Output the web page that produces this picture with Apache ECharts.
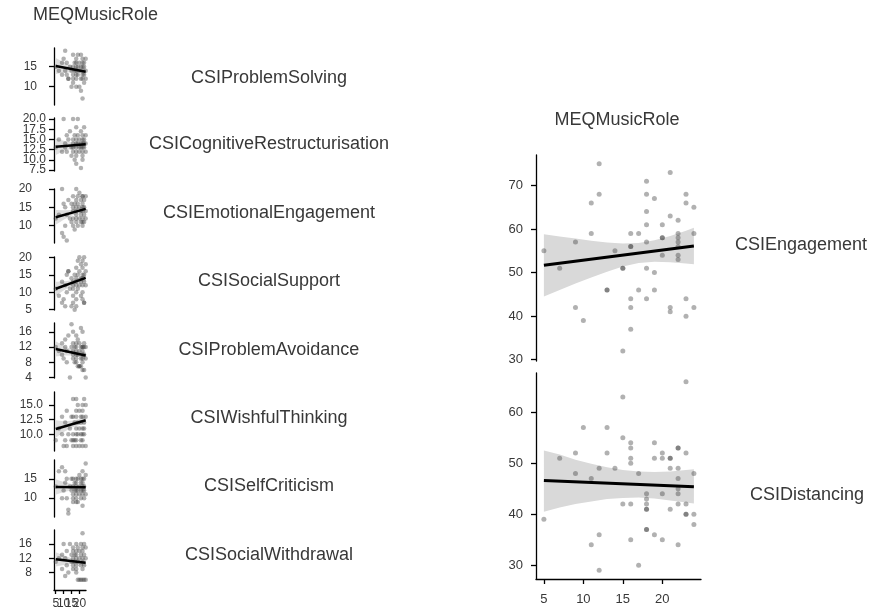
<!DOCTYPE html>
<html><head><meta charset="utf-8">
<script src="https://cdn.jsdelivr.net/npm/echarts@6/dist/echarts.min.js"></script>
<style>html,body{margin:0;padding:0;background:#fff}#c{width:875px;height:610px}</style>
</head><body><div id="c"></div>
<script>
// ---------- DATA ----------
const xLabel = 'MEQMusicRole';
const leftNames = ['CSIProblemSolving','CSICognitiveRestructurisation','CSIEmotionalEngagement','CSISocialSupport','CSIProblemAvoidance','CSIWishfulThinking','CSISelfCriticism','CSISocialWithdrawal'];
const rightNames = ['CSIEngagement','CSIDistancing'];

const xTicks = [5,10,15,20];
const leftYTicks = [[10,15],[7.5,10,12.5,15,17.5,20],[10,15,20],[5,10,15,20],[4,8,12,16],[10,12.5,15],[10,15],[8,12,16]];
const rightYTicks = [[30,40,50,60,70],[30,40,50,60]];

const ptsProblemSolving = [[5,15],[7,14],[9,16],[9,13],[10,17],[11,19],[11,14],[12,13],[12,16],[13,12],[13,12],[14,15],[15,14],[15,10],[16,18],[16,13],[16,15],[16,12],[16,11],[17,16],[17,14],[18,17],[18,15],[18,13],[18,12],[18,16],[18,10],[18,14],[19,18],[19,13],[19,15],[20,14],[20,16],[20,10],[21,18],[21,12],[21,15],[21,9],[22,17],[22,13],[22,16],[22,14],[22,15],[22,12],[22,7],[23,16],[23,11],[23,15],[23,13],[24,14],[24,17],[24,12]];
const ptsCognitive = [[5,13],[7,15],[9,12],[10,20],[11,14],[11,13],[12,16],[12,12],[13,15],[14,17],[15,13],[15,11],[16,20],[16,15],[16,14],[16,12],[16,13],[17,16],[17,10],[18,18],[18,15],[18,14],[18,13],[18,12],[18,11],[18,9],[19,16],[19,14],[19,20],[20,15],[20,13],[20,12],[21,17],[21,14],[21,13],[21,8],[22,16],[22,15],[22,14],[22,13],[22,12],[22,11],[22,10],[23,15],[23,14],[23,13],[23,18],[24,14],[24,12],[24,16]];
const ptsEmotional = [[5,12],[7,13],[9,20],[9,8],[10,16],[10,7],[11,15],[11,10],[12,13],[12,6],[13,17],[14,12],[15,16],[15,11],[16,18],[16,14],[16,12],[16,10],[16,15],[17,16],[17,9],[18,20],[18,17],[18,15],[18,13],[18,11],[18,14],[18,12],[19,18],[19,10],[19,16],[20,15],[20,12],[20,19],[21,17],[21,14],[21,11],[21,13],[22,18],[22,18],[22,16],[22,15],[22,14],[22,12],[22,11],[22,10],[23,17],[23,13],[23,15],[23,11],[24,18],[24,14],[24,12]];
const ptsSocialSupport = [[5,11],[7,9],[9,13],[9,7],[10,8],[11,12],[11,6],[12,15],[12,10],[13,16],[13,16],[14,11],[15,14],[15,6],[16,13],[16,9],[16,11],[16,7],[16,12],[17,15],[17,5],[18,17],[18,13],[18,10],[18,8],[18,14],[18,12],[18,6],[19,19],[19,11],[19,15],[20,20],[20,16],[20,12],[21,18],[21,14],[21,9],[21,13],[22,19],[22,17],[22,15],[22,14],[22,12],[22,10],[22,8],[23,20],[23,15],[23,13],[23,7],[23,7],[24,18],[24,16],[24,12]];
const ptsProblemAvoid = [[5,12],[7,11],[9,13],[9,10],[10,9],[11,14],[11,12],[12,11],[12,8],[13,15],[14,4],[15,18],[15,12],[16,16],[16,13],[16,11],[16,10],[16,9],[17,12],[17,8],[18,15],[18,13],[18,11],[18,10],[18,9],[18,8],[18,12],[19,14],[19,10],[19,7],[20,13],[20,11],[20,7],[20,7],[21,17],[21,12],[21,9],[21,7],[22,16],[22,12],[22,12],[22,11],[22,10],[22,9],[22,8],[22,6],[23,13],[23,10],[23,12],[23,6],[24,12],[24,9],[24,4]];
const ptsWishful = [[5,9],[7,11],[9,10],[9,13],[10,8],[11,12],[11,9],[12,14],[12,8],[13,10],[14,11],[15,13],[15,9],[16,16],[16,13],[16,10],[16,9],[16,8],[17,12],[17,9],[18,16],[18,14],[18,13],[18,11],[18,10],[18,9],[18,8],[19,15],[19,12],[19,10],[20,14],[20,11],[20,8],[21,13],[21,12],[21,10],[21,9],[22,15],[22,14],[22,13],[22,11],[22,10],[22,9],[22,8],[23,16],[23,12],[23,11],[23,10],[24,15],[24,13],[24,8]];
const ptsSelfCrit = [[5,13],[7,17],[9,18],[9,10],[10,12],[11,17],[11,14],[12,15],[12,10],[13,7],[13,6],[14,13],[15,15],[15,12],[16,15],[16,13],[16,11],[16,10],[16,9],[17,14],[17,12],[18,15],[18,14],[18,13],[18,12],[18,11],[18,10],[18,9],[19,15],[19,12],[19,9],[20,16],[20,13],[20,11],[21,15],[21,14],[21,12],[21,10],[22,17],[22,15],[22,14],[22,13],[22,12],[22,11],[22,8],[23,15],[23,13],[23,10],[23,12],[24,19],[24,16],[24,11]];
const ptsWithdrawal = [[5,11],[7,12],[9,13],[9,9],[10,16],[11,12],[11,7],[12,14],[12,10],[13,8],[14,16],[15,13],[15,11],[16,15],[16,14],[16,12],[16,9],[16,10],[17,13],[17,11],[18,16],[18,14],[18,12],[18,10],[18,9],[18,8],[18,13],[19,15],[19,11],[19,6],[20,14],[20,12],[20,6],[21,16],[21,13],[21,10],[21,6],[22,19],[22,15],[22,14],[22,12],[22,11],[22,9],[22,6],[23,16],[23,13],[23,10],[23,6],[24,15],[24,12],[24,6]];
const ptsEngagement = [[5,55],[7,51],[9,57],[9,42],[10,39],[11,66],[11,59],[12,75],[12,68],[13,46],[13,46],[14,55],[15,51],[15,51],[15,32],[16,59],[16,56],[16,56],[16,44],[16,42],[16,37],[17,59],[17,46],[18,71],[18,68],[18,64],[18,61],[18,57],[18,51],[18,44],[19,67],[19,50],[19,46],[20,61],[20,58],[20,58],[20,54],[21,73],[21,63],[21,42],[21,41],[22,62],[22,59],[22,58],[22,57],[22,56],[22,54],[22,53],[23,68],[23,66],[23,44],[23,40],[24,65],[24,59],[24,42]];
const ptsDistancing = [[5,39],[7,51],[9,52],[9,48],[10,57],[11,47],[11,34],[12,49],[12,36],[12,29],[13,57],[13,52],[14,49],[15,63],[15,55],[15,42],[16,54],[16,53],[16,51],[16,50],[16,42],[16,35],[17,48],[17,30],[18,44],[18,43],[18,42],[18,41],[18,41],[18,37],[18,37],[19,54],[19,51],[19,36],[20,52],[20,51],[20,44],[20,35],[21,51],[21,51],[21,49],[21,41],[22,53],[22,53],[22,49],[22,47],[22,45],[22,44],[22,42],[22,34],[23,66],[23,52],[23,42],[23,40],[23,40],[24,48],[24,40],[24,38]];

// regression line end values [at x=5, at x=24]
const fitLeft = [[15.2,13.75],[13.2,13.8],[12.3,14.6],[11.0,14.1],[11.5,9.8],[10.9,12.4],[12.9,12.8],[11.7,10.7]];
const fitRight = [[51.7,56.1],[46.6,45.4]];

// confidence bands
const bandXLeft = [5,10,15,20,24];
const bandLoLeft = [[13.2,13.5,13.6,13.4,12.8],[11.2,12.1,12.7,13.0,12.8],[10.3,11.6,12.7,13.4,13.6],[9.0,10.5,11.8,12.7,13.1],[9.5,9.8,9.8,9.5,8.8],[9.4,10.4,11.1,11.6,11.7],[10.9,11.6,12.0,12.1,11.8],[9.7,10.1,10.4,10.2,9.7]];
const bandHiLeft = [[17.2,16.1,15.2,14.8,14.8],[15.2,14.7,14.3,14.4,14.8],[14.3,14.2,14.3,14.8,15.6],[13.0,13.1,13.4,14.2,15.1],[13.5,12.3,11.4,10.9,10.8],[12.4,12.2,12.3,12.6,13.1],[14.9,14.2,13.7,13.5,13.8],[13.7,12.8,12.0,11.6,11.7]];
const bandXRight = [5,7,9,11,13,15,17,19,21,23,24];
const bandLoRight = [[44.5,46.0,47.5,48.9,50.2,51.4,52.2,52.5,52.4,52.1,51.9],[40.5,41.3,42.0,42.5,43.0,43.2,43.3,43.1,42.7,42.3,42.1]];
const bandHiRight = [[58.8,58.3,57.8,57.3,56.9,56.7,56.8,57.4,58.4,59.6,60.3],[52.5,51.7,50.7,49.9,49.2,48.7,48.4,48.3,48.4,48.7,48.8]];

const leftPoints = [ptsProblemSolving,ptsCognitive,ptsEmotional,ptsSocialSupport,ptsProblemAvoid,ptsWishful,ptsSelfCrit,ptsWithdrawal];
const rightPoints = [ptsEngagement,ptsDistancing];

// ---------- LAYOUT ----------
const leftLayout = [
  {top:48,h:57,min:5.4,max:19.7,m:17,dec:0,ly:78},
  {top:118,h:53,min:7.25,max:20.25,m:8,dec:1,ly:144},
  {top:189,h:54,min:5.3,max:20,m:22,dec:0,ly:213},
  {top:257,h:53,min:4.9,max:20.1,m:22,dec:0,ly:281},
  {top:323,h:55,min:3.9,max:18.3,m:22,dec:0,ly:350},
  {top:392,h:59,min:7.15,max:17.2,m:11,dec:1,ly:418},
  {top:460,h:57,min:5.1,max:19.9,m:17,dec:0,ly:486},
  {top:530,h:61,min:3.1,max:19.9,m:22,dec:0,ly:555}
];
const rightLayout = [
  {top:155,h:206,min:29.7,max:77,lx:735,ly:245},
  {top:373,h:206,min:27.3,max:67.7,lx:750,ly:495}
];
const FONT = 'Liberation Sans, Arial, sans-serif';
const TXT = '#383838';
const PT = 'rgba(60,60,60,0.5)';
const LABEL_FONT = '18px ' + FONT;
const BLACK = {color:'#000', width:1.3};

const grid=[], xAxis=[], yAxis=[], series=[], graphic=[];

// split tick list into alternating subsets so that overlapping labels all stay drawn
function alternate(arr, k){ return arr.filter((_,i)=>i%2===k); }

function addPanel(idx, g, xBase, xShow, xLab, yBase, yTicks, yLab, pts, fit, bx, lo, hi, symSize, lineW, bandColor) {
  grid.push(g);
  const xi = xAxis.length, yi = yAxis.length;
  const xCommon = {type:'value', gridIndex:idx, position:'bottom', offset:0, splitLine:{show:false}};
  const yCommon = {type:'value', gridIndex:idx, position:'left', offset:0, splitLine:{show:false}};
  xAxis.push(Object.assign({}, xCommon, xBase,
    xShow ? {axisLine:{show:true,onZero:false,lineStyle:BLACK}, axisTick:{show:true,length:xLab.tick,customValues:xTicks,lineStyle:BLACK}, axisLabel:{show:false}}
          : {show:false}));
  yAxis.push(Object.assign({}, yCommon, yBase,
    {axisLine:{show:true,onZero:false,lineStyle:BLACK}, axisTick:{show:true,length:5,customValues:yTicks,lineStyle:BLACK}, axisLabel:{show:false}}));
  if (xShow) {
    [0,1].forEach(k=>{
      xAxis.push(Object.assign({}, xCommon, xBase, {axisLine:{show:false,onZero:false}, axisTick:{show:false},
        axisLabel:Object.assign({customValues:alternate(xTicks,k), showMinLabel:true, showMaxLabel:true}, xLab.style)}));
    });
  }
  [0,1].forEach(k=>{
    yAxis.push(Object.assign({}, yCommon, yBase, {axisLine:{show:false,onZero:false}, axisTick:{show:false},
      axisLabel:Object.assign({customValues:alternate(yTicks,k), showMinLabel:true, showMaxLabel:true}, yLab)}));
  });
  series.push({
    type:'custom', xAxisIndex:xi, yAxisIndex:yi, silent:true, z:1,
    data:[[bx[0], lo[0]]],
    renderItem:function(params, api){
      const p=[];
      for(let i=0;i<bx.length;i++) p.push(api.coord([bx[i], hi[i]]));
      for(let i=bx.length-1;i>=0;i--) p.push(api.coord([bx[i], lo[i]]));
      return {type:'polygon', shape:{points:p}, style:{fill:bandColor}};
    }
  });
  series.push({type:'scatter', xAxisIndex:xi, yAxisIndex:yi, z:2, symbolSize:symSize, silent:true,
    itemStyle:{color:PT}, data:pts});
  series.push({type:'line', xAxisIndex:xi, yAxisIndex:yi, z:3, symbol:'none', silent:true,
    lineStyle:{color:'#000', width:lineW}, data:[[5,fit[0]],[24,fit[1]]]});
}

leftLayout.forEach((L,i)=>{
  const last = i===leftLayout.length-1;
  addPanel(i,
    {left:54, top:L.top, width:32, height:L.h},
    {min:3.9,max:24.2}, last,
    {tick:4, style:{margin:8,fontSize:12,color:TXT,fontFamily:FONT}},
    {min:L.min,max:L.max}, leftYTicks[i],
    {margin:L.m,fontSize:12,color:TXT,fontFamily:FONT, formatter:(v)=>L.dec?Number(v).toFixed(1):String(v)},
    leftPoints[i], fitLeft[i], bandXLeft, bandLoLeft[i], bandHiLeft[i], 4.5, 2.5, '#dedede');
  graphic.push({type:'text', x:269, y:L.ly, style:{text:leftNames[i], font:LABEL_FONT, fill:TXT, align:'center', verticalAlign:'middle'}});
});

rightLayout.forEach((R,j)=>{
  const idx = leftLayout.length + j;
  const last = j===rightLayout.length-1;
  addPanel(idx,
    {left:536, top:R.top, width:165, height:R.h},
    {min:4,max:24.9}, last,
    {tick:5, style:{margin:14,fontSize:13,color:TXT,fontFamily:FONT}},
    {min:R.min,max:R.max}, rightYTicks[j],
    {margin:13,fontSize:13,color:TXT,fontFamily:FONT},
    rightPoints[j], fitRight[j], bandXRight, bandLoRight[j], bandHiRight[j], 5, 3, '#d9d9d9');
  graphic.push({type:'text', x:R.lx, y:R.ly, style:{text:rightNames[j], font:LABEL_FONT, fill:TXT, align:'left', verticalAlign:'middle'}});
});

graphic.push({type:'text', x:33, y:15, style:{text:xLabel, font:LABEL_FONT, fill:TXT, align:'left', verticalAlign:'middle'}});
graphic.push({type:'text', x:617, y:120, style:{text:xLabel, font:LABEL_FONT, fill:TXT, align:'center', verticalAlign:'middle'}});

const chart = echarts.init(document.getElementById('c'), null, {renderer:'canvas'});
chart.setOption({
  animation:false,
  backgroundColor:'#fff',
  textStyle:{fontFamily:FONT},
  grid, xAxis, yAxis, series, graphic
});
</script>
</body></html>
